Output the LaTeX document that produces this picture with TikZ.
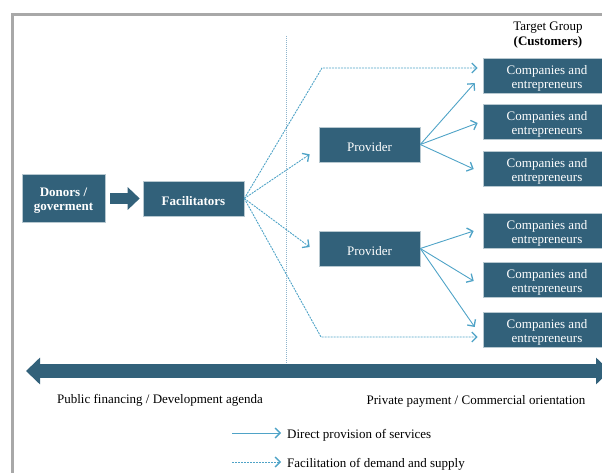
\documentclass[tikz,border=0pt]{standalone}
\usepackage{fontspec}
\setmainfont{Liberation Serif}
\usetikzlibrary{arrows.meta,calc}
\definecolor{boxc}{HTML}{32617A}
\definecolor{linec}{HTML}{4FA3C7}
\definecolor{framec}{HTML}{A8A8A8}
\definecolor{dotc}{HTML}{8DB3CC}
\begin{document}
\begin{tikzpicture}[x=1pt,y=-1pt,
  box/.style={fill=boxc, draw=boxc!35!white, line width=0.6pt, text=white, align=center,
    inner sep=0pt, font=\fontsize{13}{14}\selectfont},
  smallbox/.style={box, text height=13.5pt, minimum width=101pt, minimum height=35pt},
  custbox/.style={box, text height=28.5pt, minimum width=128pt, minimum height=35pt},
  direct/.style={linec, line width=0.9pt, -{Straight Barb[length=5pt,width=10pt,line width=1.3pt]}},
  facil/.style={linec, line width=0.9pt, dash pattern=on 2pt off 1pt,
    -{Straight Barb[length=5pt,width=10pt,line width=1.3pt]}},
  lbl/.style={font=\fontsize{13}{15}\selectfont, inner sep=0pt, align=center}]
\useasboundingbox (0,0) rectangle (602,473);
% frame
\coordinate (fb) at (12.5,480);
\coordinate (fc) at (12.5,14.5);
\coordinate (fr) at (620,14.5);
\draw[framec, line width=3.5pt] (fb) -- (fc) -- (fr);
% vertical divider
\coordinate (vt) at (286.5,36);
\coordinate (vb) at (286.5,364);
\draw[dotc, line width=1pt, dash pattern=on 1pt off 1pt] (vt) -- (vb);
% big double arrow
\coordinate (bl) at (26,371);
\coordinate (br) at (610,371);
\draw[boxc, line width=14pt, {Triangle[length=14pt,width=26pt]}-{Triangle[length=14pt,width=26pt]}] (bl) -- (br);
% nodes
\node[box, text height=28.5pt, minimum width=83pt, minimum height=48pt, font=\fontsize{13}{14}\selectfont\bfseries] (don) at (63.5,198) {Donors /\\goverment};
\node[smallbox, font=\fontsize{13}{14}\selectfont\bfseries] (fac) at (193.5,198.5) {Facilitators};
\node[smallbox] (p1) at (369.5,144.5) {Provider};
\node[smallbox] (p2) at (369.5,248.5) {Provider};
\node[custbox] (c1) at (547,75.5) {Companies and\\entrepreneurs};
\node[custbox] (c2) at (547,121.5) {Companies and\\entrepreneurs};
\node[custbox] (c3) at (547,169) {Companies and\\entrepreneurs};
\node[custbox] (c4) at (547,230.5) {Companies and\\entrepreneurs};
\node[custbox] (c5) at (547,279.5) {Companies and\\entrepreneurs};
\node[custbox] (c6) at (547,329.5) {Companies and\\entrepreneurs};
\node[lbl] (tg) at (548,35) {Target Group\\\textbf{(Customers)}};
% block arrow
\draw[boxc, line width=11pt, -{Triangle[length=12pt,width=22pt]}] ([xshift=5pt]don.east |- fac.west) -- ([xshift=-3pt]fac.west);
% facilitation lines
\coordinate (k1) at (322,68);
\coordinate (k2) at (321,337);
\draw[facil] (fac.east) -- (k1) -- ($(k1 -| c1.west)+(-5,0)$);
\draw[facil] (fac.east) -- ($(p1.south west)+(-9,-8)$);
\draw[facil] (fac.east) -- ($(p2.west)+(-9,-1.5)$);
\draw[facil] (fac.east) -- (k2) -- ($(k2 -| c6.west)+(-5,0)$);
% direct lines
\draw[direct] (p1.east) -- ($(c1.west)+(-8,7.5)$);
\draw[direct] (p1.east) -- ($(c2.west)+(-5,1.5)$);
\draw[direct] (p1.east) -- ($(c3.west)+(-9,0)$);
\draw[direct] (p2.east) -- ($(c4.west)+(-9,0.5)$);
\draw[direct] (p2.east) -- ($(c5.west)+(-9,1.5)$);
\draw[direct] (p2.east) -- ($(c6.west)+(-8,-2.5)$);
% axis labels
\node[lbl] (pub) at (160,400) {Public financing / Development agenda};
\node[lbl] (pri) at (476,401) {Private payment / Commercial orientation};
% legend
\coordinate (l1a) at (232,433);
\coordinate (l1b) at (281,433);
\coordinate (l2a) at (232,462);
\coordinate (l2b) at (281,462);
\draw[direct] (l1a) -- (l1b);
\draw[facil] (l2a) -- (l2b);
\node[lbl, anchor=west] (leg1) at (287,435) {Direct provision of services};
\node[lbl, anchor=west] (leg2) at (287,464) {Facilitation of demand and supply};
\end{tikzpicture}
\end{document}
